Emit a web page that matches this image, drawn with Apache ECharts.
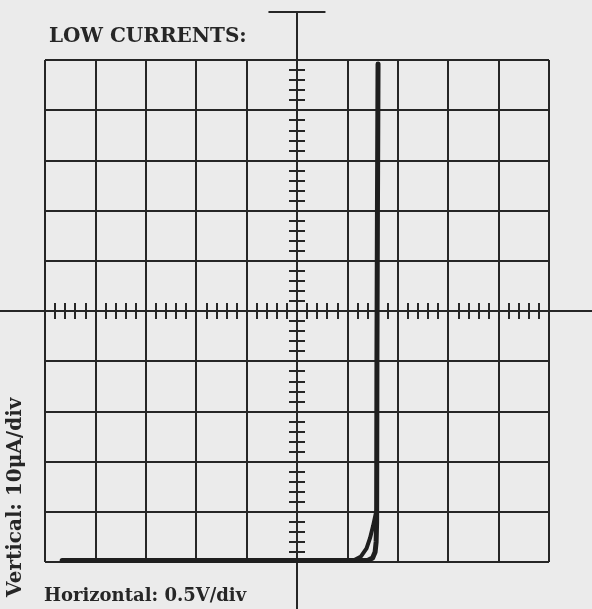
<!DOCTYPE html>
<html>
<head>
<meta charset="utf-8">
<script src="https://cdn.jsdelivr.net/npm/echarts@6/dist/echarts.min.js"></script>
<style>
  html, body { margin: 0; padding: 0; background: #ebebeb; }
  #chart { width: 592px; height: 609px; }
</style>
</head>
<body>
<div id="chart"></div>
<script>
// scope trace, horizontal in volts (0.5 V/div), vertical in microamps (10 uA/div)
const forwardVolts = [-2.33, 0.60, 0.70, 0.75, 0.775, 0.785, 0.79, 0.793, 0.798, 0.804]
const forwardMicroAmps = [-49.7, -49.7, -49.7, -49.2, -48, -46, -42, -10, 20, 49.2]
const returnVolts = [0.785, 0.755, 0.725, 0.69, 0.635, 0.56, 0.45]
const returnMicroAmps = [-40, -42.8, -45.2, -47.3, -48.9, -49.7, -49.8]

const ink = '#262626'
const serif = "'DejaVu Serif', 'Liberation Serif', serif"

const toPairs = (xs, ys) => xs.map((x, i) => [x, ys[i]])

const chart = echarts.init(document.getElementById('chart'))

// center axis with ticks on both sides: one axis per side, both on zero
const centerX = (pos) => ({
  type: 'value', gridIndex: 0, position: pos, min: -2.5, max: 2.5, interval: 0.5,
  axisLine: { show: true, onZero: true, lineStyle: { color: ink, width: 2 } },
  axisTick: { show: true, inside: true, length: 8, lineStyle: { color: ink, width: 2 } },
  minorTick: { show: true, splitNumber: 5, length: 8, lineStyle: { color: ink, width: 2 } },
  axisLabel: { show: false },
  splitLine: { show: pos === 'bottom', lineStyle: { color: ink, width: 2 } }
})
const centerY = (pos) => ({
  type: 'value', gridIndex: 0, position: pos, min: -50, max: 50, interval: 10,
  axisLine: { show: true, onZero: true, lineStyle: { color: ink, width: 2 } },
  axisTick: { show: true, inside: true, length: 8, lineStyle: { color: ink, width: 2 } },
  minorTick: { show: true, splitNumber: 5, length: 8, lineStyle: { color: ink, width: 2 } },
  axisLabel: { show: false },
  splitLine: { show: pos === 'left', lineStyle: { color: ink, width: 2 } }
})

const option = {
  backgroundColor: '#ebebeb',
  animation: false,
  title: {
    text: 'LOW CURRENTS:',
    left: 44, top: 22,
    textStyle: { fontFamily: serif, fontSize: 20, fontWeight: 'bold', color: ink }
  },
  graphic: [
    {
      type: 'text', left: 44, top: 587,
      style: { text: 'Horizontal: 0.5V/div', font: 'bold 18px ' + serif, fill: ink }
    },
    {
      type: 'text', x: 6, y: 597, rotation: Math.PI / 2,
      style: { text: 'Vertical: 10μA/div', font: 'bold 20px ' + serif, fill: ink }
    }
  ],
  grid: [
    { left: 45, top: 60, width: 504, height: 502, show: false },
    // long crosshair that runs past the graticule
    { left: 0, top: 12, width: 592, height: 597, show: false }
  ],
  xAxis: [
    centerX('bottom'),
    centerX('top'),
    {
      type: 'value', gridIndex: 1, min: -2.946, max: 2.927,
      axisLine: { show: true, onZero: true, lineStyle: { color: ink, width: 2 } },
      axisTick: { show: false }, axisLabel: { show: false }, splitLine: { show: false }
    }
  ],
  yAxis: [
    centerY('left'),
    centerY('right'),
    {
      type: 'value', gridIndex: 1, min: -59.4, max: 59.6,
      axisLine: {
        show: true, onZero: true,
        symbol: ['none', 'rect'], symbolSize: [57, 2],
        lineStyle: { color: ink, width: 2 }
      },
      axisTick: { show: false }, axisLabel: { show: false }, splitLine: { show: false }
    }
  ],
  series: [
    {
      name: 'forward', type: 'line', xAxisIndex: 0, yAxisIndex: 0,
      data: toPairs(forwardVolts, forwardMicroAmps),
      showSymbol: false, clip: false,
      lineStyle: { color: '#1e1e1e', width: 5, cap: 'round', join: 'round' }
    },
    {
      name: 'return', type: 'line', xAxisIndex: 0, yAxisIndex: 0,
      data: toPairs(returnVolts, returnMicroAmps),
      showSymbol: false, clip: false,
      lineStyle: { color: '#1e1e1e', width: 4, cap: 'round', join: 'round' }
    }
  ]
}

chart.setOption(option)
</script>
</body>
</html>
